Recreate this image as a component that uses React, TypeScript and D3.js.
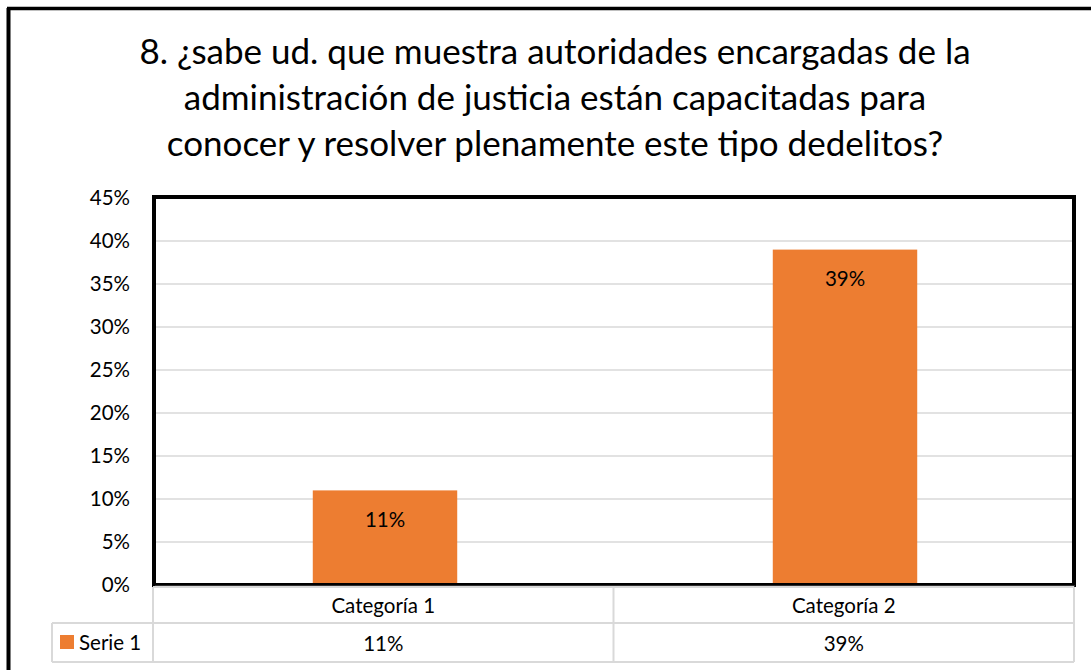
import { useMemo } from "react";
import * as d3 from "d3";

const titleLines = [
  "8. ¿sabe ud. que muestra autoridades encargadas de la",
  "administración de justicia están capacitadas para",
  "conocer y resolver plenamente este tipo dedelitos?",
];
const categories = ["Categoría 1", "Categoría 2"];
const seriesName = "Serie 1";
const values = [0.11, 0.39];
const yTicks = [0, 0.05, 0.1, 0.15, 0.2, 0.25, 0.3, 0.35, 0.4, 0.45];

const W = 1091;
const H = 670;
const PLOT = { left: 155, right: 1075, top: 198, bottom: 585 };
const FONT = "Lato, 'Open Sans', sans-serif";
const ORANGE = "#ED7D31";
const FS = 20.5;

export default function App() {
  const x = useMemo(
    () =>
      d3.scaleBand<string>()
        .domain(categories)
        .range([PLOT.left, PLOT.right])
        .paddingInner(0.686)
        .paddingOuter(0.343),
    []
  );
  const y = useMemo(
    () => d3.scaleLinear().domain([0, 0.45]).range([PLOT.bottom, PLOT.top]),
    []
  );
  const pct = d3.format(".0%");
  const colX = d3.scaleBand<string>().domain(categories).range([153, 1074]);
  const rows = { top: 587, mid: 623, bottom: 662 };

  return (
    <svg
      width={W}
      height={H}
      style={{ position: "absolute", left: 0, top: 0, background: "#fff" }}
    >
      {/* outer frame */}
      <line x1={8.5} x2={8.5} y1={8} y2={H} stroke="#000" strokeWidth={4} />
      <line x1={7} x2={W} y1={8.5} y2={8.5} stroke="#000" strokeWidth={3.5} />

      {titleLines.map((t, i) => (
        <text
          key={i}
          x={555}
          y={64 + i * 46}
          textAnchor="middle"
          fontFamily={FONT}
          fontSize={35}
          fill="#000"
        >
          {t}
        </text>
      ))}

      {/* gridlines */}
      {yTicks.map((t) => (
        <line
          key={t}
          x1={PLOT.left}
          x2={PLOT.right}
          y1={y(t)}
          y2={y(t)}
          stroke="#d9d9d9"
          strokeWidth={1.5}
        />
      ))}
      {yTicks.map((t) => (
        <text
          key={"l" + t}
          x={130}
          y={y(t)}
          dy="0.35em"
          textAnchor="end"
          fontFamily={FONT}
          fontSize={FS}
          fill="#000"
        >
          {pct(t)}
        </text>
      ))}

      {/* bars */}
      {categories.map((c, i) => (
        <g key={c}>
          <rect
            x={x(c)}
            y={y(values[i])}
            width={x.bandwidth()}
            height={y(0) - y(values[i])}
            fill={ORANGE}
          />
          <text
            x={(x(c) ?? 0) + x.bandwidth() / 2}
            y={y(values[i]) + 29}
            dy="0.35em"
            textAnchor="middle"
            fontFamily={FONT}
            fontSize={FS}
            fill="#000"
          >
            {pct(values[i])}
          </text>
        </g>
      ))}

      {/* plot border */}
      <rect
        x={PLOT.left - 1}
        y={PLOT.top - 1}
        width={PLOT.right - PLOT.left}
        height={PLOT.bottom - PLOT.top + 1}
        fill="none"
        stroke="#000"
        strokeWidth={4}
      />
      <line x1={PLOT.left} x2={PLOT.right} y1={PLOT.bottom + 1} y2={PLOT.bottom + 1} stroke="#404040" strokeWidth={1.5} />

      {/* data table */}
      <g stroke="#d9d9d9" strokeWidth={2} fill="none">
        <line x1={153} x2={1074} y1={rows.top} y2={rows.top} />
        <line x1={52} x2={1074} y1={rows.mid} y2={rows.mid} />
        <line x1={52} x2={1074} y1={rows.bottom} y2={rows.bottom} />
        <line x1={52} x2={52} y1={rows.mid} y2={rows.bottom} />
        <line x1={153} x2={153} y1={rows.top} y2={rows.bottom} />
        <line x1={colX(categories[1])} x2={colX(categories[1])} y1={rows.top} y2={rows.bottom} />
        <line x1={1074} x2={1074} y1={rows.top} y2={rows.bottom} />
      </g>
      {categories.map((c, i) => (
        <g key={"t" + c}>
          <text
            x={(colX(c) ?? 0) + colX.bandwidth() / 2}
            y={(rows.top + rows.mid) / 2 + 1}
            dy="0.35em"
            textAnchor="middle"
            fontFamily={FONT}
            fontSize={FS}
          >
            {c}
          </text>
          <text
            x={(colX(c) ?? 0) + colX.bandwidth() / 2}
            y={(rows.mid + rows.bottom) / 2 + 1}
            dy="0.35em"
            textAnchor="middle"
            fontFamily={FONT}
            fontSize={FS}
          >
            {pct(values[i])}
          </text>
        </g>
      ))}
      <rect x={60} y={635} width={14} height={14} fill={ORANGE} />
      <text x={79} y={643} dy="0.35em" fontFamily={FONT} fontSize={FS}>
        {seriesName}
      </text>
    </svg>
  );
}
